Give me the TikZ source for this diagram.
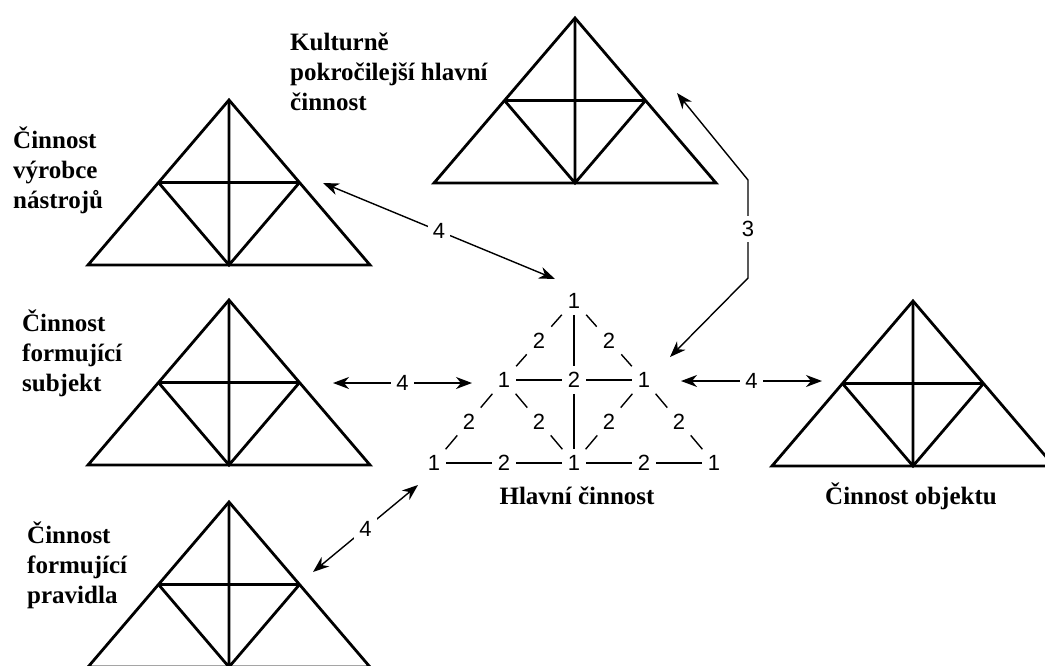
\documentclass[tikz,border=0pt]{standalone}
\usepackage{fontspec}
\setmainfont{Liberation Serif}
\newfontfamily\numfont{Liberation Sans}
\usetikzlibrary{arrows.meta}
\tikzset{
  tri/.style={line width=2.8pt, line join=miter},
  lbl/.style={font=\fontsize{25}{30}\selectfont\bfseries, align=left, inner sep=0pt},
  num/.style={font=\numfont\fontsize{22}{22}\selectfont, inner sep=6pt},
  anum/.style={font=\numfont\fontsize{22}{22}\selectfont, inner sep=5pt, fill=white},
  conn/.style={line width=1.4pt},
  arr/.style={line width=1.4pt, {Stealth[length=16pt,width=12pt,inset=5pt]}-{Stealth[length=16pt,width=12pt,inset=5pt]}},
  actri/.pic={
    \coordinate (-a) at (0,-165);
    \coordinate (-l) at (-141,0);
    \coordinate (-r) at (141,0);
    \coordinate (-m) at (0,0);
    \coordinate (-p) at (-70.5,-82.5);
    \coordinate (-q) at (70.5,-82.5);
    \draw[tri] (-a) -- (-l) -- (-r) -- cycle;
    \draw[tri] (-a) -- (-m) (-p) -- (-q) (-p) -- (-m) -- (-q);
  }
}
\begin{document}
\begin{tikzpicture}[x=1pt,y=-1pt]
\useasboundingbox (0,0) rectangle (1045,665);
\clip (0,0) rectangle (1045,665);
% activity triangles
\pic (tools) at (229,265) {actri};
\pic (culture) at (575,183) {actri};
\pic (subject) at (229,465) {actri};
\pic (rules) at (229,667) {actri};
\pic (object) at (913,466) {actri};
% labels
\node[lbl, anchor=west] (ltools) at (13,170) {Činnost\\výrobce\\nástrojů};
\node[lbl, anchor=west] (lculture) at (290,72) {Kulturně\\pokročilejší hlavní\\činnost};
\node[lbl, anchor=west] (lsubject) at (22,353) {Činnost\\formující\\subjekt};
\node[lbl, anchor=west] (lrules) at (27,565) {Činnost\\formující\\pravidla};
\node[lbl] (lmain) at (577,496) {Hlavní činnost};
\node[lbl] (lobject) at (911,496) {Činnost objektu};
% central triangle
\node[num] (c1) at (574,301) {1};
\node[num] (cl) at (504,380) {1};
\node[num] (cc) at (574,380) {2};
\node[num] (cr) at (644,380) {1};
\node[num] (bl) at (434,463) {1};
\node[num] (bm) at (574,463) {1};
\node[num] (br) at (714,463) {1};
\node[num] (e1) at (539,340.5) {2};
\node[num] (e2) at (609,340.5) {2};
\node[num] (e3) at (469,421.5) {2};
\node[num] (e4) at (539,421.5) {2};
\node[num] (e5) at (609,421.5) {2};
\node[num] (e6) at (679,421.5) {2};
\node[num] (e7) at (504,463) {2};
\node[num] (e8) at (644,463) {2};
\draw[conn] (c1) -- (e1) (e1) -- (cl);
\draw[conn] (c1) -- (e2) (e2) -- (cr);
\draw[conn] (c1) -- (cc) (cc) -- (bm);
\draw[conn] (cl) -- (cc) (cc) -- (cr);
\draw[conn] (cl) -- (e3) (e3) -- (bl);
\draw[conn] (cl) -- (e4) (e4) -- (bm);
\draw[conn] (cr) -- (e5) (e5) -- (bm);
\draw[conn] (cr) -- (e6) (e6) -- (br);
\draw[conn] (bl) -- (e7) (e7) -- (bm);
\draw[conn] (bm) -- (e8) (e8) -- (br);
% arrows
\coordinate (a1s) at (323,183);
\coordinate (a1e) at (555,279);
\draw[arr] (a1s) -- node[anum] (n1) {4} (a1e);
\coordinate (a2s) at (333,383);
\coordinate (a2e) at (472,383);
\draw[arr] (a2s) -- node[anum] (n2) {4} (a2e);
\coordinate (a3s) at (681,381);
\coordinate (a3e) at (822,381);
\draw[arr] (a3s) -- node[anum] (n3) {4} (a3e);
\coordinate (a4s) at (313,572);
\coordinate (a4e) at (418,485);
\draw[arr] (a4s) -- node[anum] (n4) {4} (a4e);
\coordinate (a5s) at (670,357);
\coordinate (a5b) at (748,278);
\coordinate (a5c) at (748,180);
\coordinate (a5e) at (677,93);
\draw[arr] (a5s) -- (a5b) -- node[anum] (n5) {3} (a5c) -- (a5e);
\end{tikzpicture}
\end{document}
